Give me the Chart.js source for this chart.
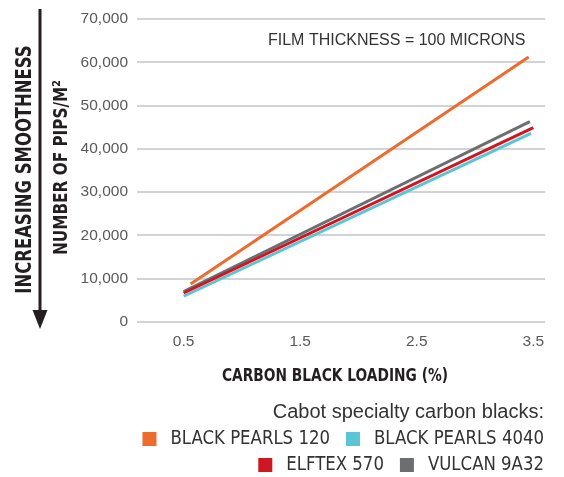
<!DOCTYPE html>
<html>
<head>
<meta charset="utf-8">
<script src="https://cdn.jsdelivr.net/npm/chart.js@4.4.1/dist/chart.umd.min.js"></script>
<style>
  html, body { margin: 0; padding: 0; background: #ffffff; }
  canvas { display: block; }
</style>
</head>
<body>
<canvas id="chart" width="564" height="477"></canvas>
<script>
// Series names and colours
const seriesNames = ['BLACK PEARLS 120', 'BLACK PEARLS 4040', 'ELFTEX 570', 'VULCAN 9A32'];
const seriesColors = ['#ed6b2d', '#5bc4d5', '#cf1722', '#6d6e71'];

// Carbon black loading (%) at each end of the line, and pips per m2
const bp120Loading = [0.56, 3.46];
const bp120Pips = [8800, 61200];
const bp4040Loading = [0.5, 3.48];
const bp4040Pips = [5950, 43600];
const elftexLoading = [0.5, 3.5];
const elftexPips = [6700, 44900];
const vulcanLoading = [0.5, 3.47];
const vulcanPips = [7050, 46300];

// Axis ticks
const xTicks = [0.5, 1.5, 2.5, 3.5];
const yTicks = [0, 10000, 20000, 30000, 40000, 50000, 60000, 70000];

const COND = "'DejaVu Sans Condensed', 'DejaVu Sans', sans-serif";
const REGULAR = "'Liberation Sans', Arial, sans-serif";

const toPoints = (xs, ys) => xs.map((x, i) => ({ x, y: ys[i] }));
const lineData = [
  toPoints(bp120Loading, bp120Pips),
  toPoints(bp4040Loading, bp4040Pips),
  toPoints(elftexLoading, elftexPips),
  toPoints(vulcanLoading, vulcanPips),
];
// draw order: orange on top, then red, cyan, gray underneath
const drawOrder = [0, 2, 1, 3];

// text squeezed along its own direction, to get a narrow face
function squeezedText(ctx, text, x, y, font, sx, rotated) {
  ctx.save();
  ctx.translate(x, y);
  if (rotated) ctx.rotate(-Math.PI / 2);
  ctx.scale(sx, 1);
  ctx.font = font;
  ctx.fillText(text, 0, 0);
  ctx.restore();
}

// Titles, arrow and custom legend
const decorations = {
  id: 'decorations',
  afterDraw(chart) {
    const { ctx, chartArea: a } = chart;
    ctx.save();

    // "increasing smoothness" arrow
    ctx.strokeStyle = '#231f20';
    ctx.fillStyle = '#231f20';
    ctx.lineWidth = 3;
    ctx.beginPath();
    ctx.moveTo(40, 9);
    ctx.lineTo(40, 312);
    ctx.stroke();
    ctx.beginPath();
    ctx.moveTo(32.5, 310);
    ctx.lineTo(47.5, 310);
    ctx.lineTo(40, 329);
    ctx.closePath();
    ctx.fill();

    const midY = (a.top + a.bottom) / 2;
    ctx.textAlign = 'center';
    ctx.textBaseline = 'middle';

    squeezedText(ctx, 'INCREASING SMOOTHNESS', 25, midY - 1, `bold 22px ${COND}`, 0.83, true);
    squeezedText(ctx, 'NUMBER OF PIPS/M²', 62, midY - 3, `bold 20px ${COND}`, 0.85, true);

    // x axis title
    squeezedText(ctx, 'CARBON BLACK LOADING (%)', (a.left + a.right) / 2 - 6, a.bottom + 54,
      `bold 18px ${COND}`, 0.85, false);

    // note inside the plot
    ctx.textAlign = 'left';
    ctx.font = `16px ${REGULAR}`;
    ctx.fillStyle = '#333333';
    ctx.fillText('FILM THICKNESS = 100 MICRONS', 268, a.top + 22);

    // legend, right aligned, two entries per row
    const right = a.right - 1;
    ctx.textAlign = 'right';
    ctx.font = `20px ${REGULAR}`;
    ctx.fillText('Cabot specialty carbon blacks:', right, a.bottom + 90);

    const rows = [[0, 1], [2, 3]];
    const box = 14, gap = 14, itemGap = 16, sx = 0.92;
    const itemFont = `20px ${COND}`;
    ctx.font = itemFont;
    ctx.textAlign = 'left';
    rows.forEach((row, r) => {
      const y = a.bottom + 117 + r * 26;
      const widths = row.map(i => box + gap + ctx.measureText(seriesNames[i]).width * sx);
      let x = right - widths.reduce((s, w) => s + w, 0) - itemGap * (row.length - 1);
      row.forEach((i, k) => {
        ctx.fillStyle = seriesColors[i];
        ctx.fillRect(x, y - box / 2, box, box);
        ctx.fillStyle = '#333333';
        squeezedText(ctx, seriesNames[i], x + box + gap, y, itemFont, sx, false);
        x += widths[k] + itemGap;
      });
    });

    ctx.restore();
  }
};

new Chart(document.getElementById('chart'), {
  type: 'line',
  data: {
    datasets: seriesNames.map((name, i) => ({
      label: name,
      data: lineData[i],
      borderColor: seriesColors[i],
      backgroundColor: seriesColors[i],
      borderWidth: 3,
      pointRadius: 0,
      tension: 0,
      order: drawOrder.indexOf(i),
    })),
  },
  options: {
    responsive: false,
    animation: false,
    devicePixelRatio: 1,
    layout: { padding: { top: 19, right: 19, left: 0, bottom: 0 } },
    plugins: {
      legend: { display: false },
      tooltip: { enabled: false },
    },
    scales: {
      x: {
        type: 'linear',
        min: 0.1,
        max: 3.6,
        afterBuildTicks: (s) => { s.ticks = xTicks.map(v => ({ value: v })); },
        afterFit: (s) => { s.height = 155; },
        grid: { display: false, drawTicks: false },
        border: { display: false },
        ticks: {
          padding: 10,
          color: '#58595b',
          font: { family: REGULAR, size: 15.5 },
          callback: (v) => v.toFixed(1),
        },
      },
      y: {
        min: 0,
        max: 70000,
        afterBuildTicks: (s) => { s.ticks = yTicks.map(v => ({ value: v })); },
        afterFit: (s) => { s.width = 137; },
        grid: { color: '#d1d3d4', lineWidth: 2, drawTicks: false },
        border: { display: false },
        ticks: {
          padding: 9,
          color: '#58595b',
          font: { family: REGULAR, size: 15.5 },
          callback: (v) => v.toLocaleString('en-US'),
        },
      },
    },
  },
  plugins: [decorations],
});
</script>
</body>
</html>
